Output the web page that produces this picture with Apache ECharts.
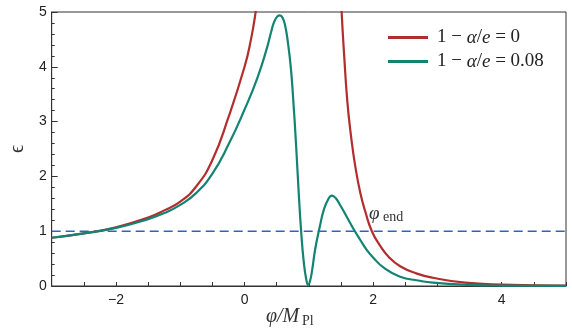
<!DOCTYPE html>
<html>
<head>
<meta charset="utf-8">
<script src="https://cdn.jsdelivr.net/npm/echarts@6/dist/echarts.min.js"></script>
<style>
  html, body { margin: 0; padding: 0; background: #fff; }
  #chart { width: 572px; height: 336px; }
</style>
</head>
<body>
<div id="chart"></div>
<script>
// 1 - alpha/e = 0 (two branches, pole near phi ~ 0.85)
const phiRed = [-3, -2.5, -2, -1.5, -1.25, -1, -0.75, -0.5, -0.25, 0, 0.1, 0.17, 0.25, 0.3,
  null, 1.46, 1.51, 1.55, 1.6, 1.66, 1.72, 1.8, 1.88, 1.98, 2.1, 2.25, 2.42, 2.67, 2.93, 3.43, 4, 5];
const epsRed = [0.88, 0.96, 1.07, 1.25, 1.38, 1.54, 1.82, 2.3, 3.08, 4.0, 4.5, 4.98, 5.7, 6.3,
  null, 6.3, 5.0, 4.2, 3.35, 2.7, 2.2, 1.7, 1.35, 1.0, 0.75, 0.52, 0.36, 0.23, 0.15, 0.06, 0.025, 0.008];

// 1 - alpha/e = 0.08
const phiGreen = [-3, -2.5, -2, -1.5, -1.25, -1, -0.75, -0.5, -0.25, 0, 0.2, 0.35, 0.41, 0.46, 0.51, 0.55,
  0.59, 0.63, 0.67, 0.72, 0.76, 0.8, 0.84, 0.88, 0.92, 0.96, 0.99, 1.02, 1.05, 1.1, 1.17, 1.23,
  1.3, 1.36, 1.42, 1.5, 1.6, 1.7, 1.8, 1.9, 2.0, 2.16, 2.42, 2.7, 2.93, 3.5, 4, 5];
const epsGreen = [0.88, 0.96, 1.06, 1.22, 1.33, 1.48, 1.7, 2.05, 2.58, 3.22, 3.8, 4.35, 4.62, 4.82, 4.92, 4.94,
  4.9, 4.76, 4.48, 3.98, 3.35, 2.6, 1.75, 1.0, 0.45, 0.12, 0.02, 0.1, 0.28, 0.68, 1.08, 1.38,
  1.58, 1.65, 1.6, 1.45, 1.24, 1.03, 0.84, 0.66, 0.52, 0.34, 0.17, 0.1, 0.06, 0.02, 0.008, 0.002];

const phiEnd = [-3, 5];
const epsEnd = [1, 1];

const xTicks = [-2, 0, 2, 4];

const zip = (xs, ys) => xs.map((x, i) => (x === null ? '-' : [x, ys[i]]));

const math = 'Liberation Serif';
const sans = 'Liberation Sans';

const chart = echarts.init(document.getElementById('chart'));

chart.setOption({
  animation: false,
  grid: {
    left: 41, right: 6, top: 12, bottom: 50,
    show: true, borderColor: '#333', borderWidth: 1
  },
  legend: {
    orient: 'vertical',
    left: 383, top: 23,
    itemWidth: 40, itemHeight: 3, itemGap: 5,
    icon: 'rect',
    data: ['zero', 'small'],
    formatter: name => name === 'zero'
      ? '{n|1 − }{i|α}{n|/}{i|e}{n| = 0}'
      : '{n|1 − }{i|α}{n|/}{i|e}{n| = 0.08}',
    textStyle: {
      padding: [0, 0, 0, 4],
      rich: {
        n: { fontFamily: math, fontSize: 19, color: '#222' },
        i: { fontFamily: math, fontSize: 19, fontStyle: 'italic', color: '#222' }
      }
    }
  },
  xAxis: {
    type: 'value',
    min: -3, max: 5, interval: 0.5,
    axisLine: { onZero: false, lineStyle: { color: '#333', width: 1 } },
    axisTick: { inside: true, length: 4, lineStyle: { color: '#333' } },
    splitLine: { show: false },
    axisLabel: {
      margin: 7,
      fontFamily: sans, fontSize: 14, color: '#222',
      formatter: v => (xTicks.includes(v) ? (v < 0 ? '−' + (-v) : String(v)) : '')
    }
  },
  yAxis: {
    type: 'value',
    min: 0, max: 5, interval: 1,
    name: 'ϵ',
    nameLocation: 'middle',
    nameGap: 21,
    nameRotate: 90,
    nameTextStyle: { fontFamily: math, fontSize: 20, color: '#333' },
    axisLine: { show: true, onZero: false, lineStyle: { color: '#333', width: 1 } },
    axisTick: { inside: true, length: 6, lineStyle: { color: '#333' } },
    minorTick: { show: true, splitNumber: 5, length: 3, lineStyle: { color: '#333' } },
    splitLine: { show: false },
    axisLabel: { margin: 5, fontFamily: sans, fontSize: 14, color: '#222' }
  },
  graphic: [
    { type: 'text', left: 266, top: 307,
      style: { text: 'φ/M', font: 'italic 20px "Liberation Serif"', fill: '#333' } },
    { type: 'text', left: 302, top: 314,
      style: { text: 'Pl', font: '14px "Liberation Serif"', fill: '#333' } },
    { type: 'text', left: 369, top: 204,
      style: { text: 'φ', font: 'italic 19px "Liberation Serif"', fill: '#333' } },
    { type: 'text', left: 383, top: 210,
      style: { text: 'end', font: '14px "Liberation Serif"', fill: '#333' } }
  ],
  series: [
    {
      name: 'phiEnd', type: 'line', data: zip(phiEnd, epsEnd),
      symbol: 'none', silent: true,
      lineStyle: { color: '#2f62c4', width: 1.5, type: [9, 5] }
    },
    {
      name: 'zero', type: 'line', data: zip(phiRed, epsRed),
      symbol: 'none', smooth: 0.5, connectNulls: false,
      itemStyle: { color: '#b22d2d' },
      lineStyle: { color: '#b22d2d', width: 2.2 }
    },
    {
      name: 'small', type: 'line', data: zip(phiGreen, epsGreen),
      symbol: 'none', smooth: 0.5,
      itemStyle: { color: '#128471' },
      lineStyle: { color: '#128471', width: 2.2 }
    }
  ]
});
</script>
</body>
</html>
